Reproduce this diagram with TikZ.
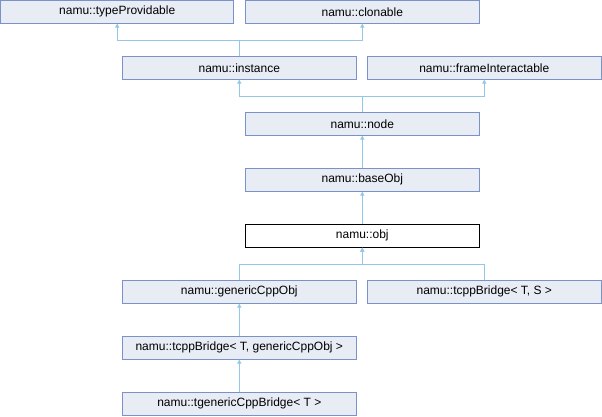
\documentclass[tikz,border=0pt]{standalone}
\usepackage{fontspec}
\setmainfont{Liberation Sans}
\usetikzlibrary{arrows.meta}
\definecolor{boxfill}{RGB}{232,236,245}
\definecolor{boxline}{RGB}{122,146,200}
\definecolor{edgecol}{RGB}{147,199,232}
\tikzset{
  cls/.style={draw=boxline, fill=boxfill, line width=1pt, minimum width=233.5pt, minimum height=22.5pt, inner sep=0pt, font=\fontsize{12}{14}\selectfont, text=black},
  mainbox/.style={cls, draw=black, fill=white},
  edge/.style={draw=edgecol, line width=1pt, -{Triangle[width=4pt,length=4pt]}}
}
\begin{document}
\begin{tikzpicture}[x=1pt,y=-1pt]
\useasboundingbox (0,0) rectangle (602,416);
\node[cls] (tp) at (117.2,11.8) {namu::typeProvidable};
\node[cls] (cl) at (362.3,11.8) {namu::clonable};
\node[cls] (in) at (239.3,67.8) {namu::instance};
\node[cls] (fi) at (484.3,67.8) {namu::frameInteractable};
\node[cls] (nd) at (362.3,123.8) {namu::node};
\node[cls] (bo) at (362.3,179.8) {namu::baseObj};
\node[mainbox] (ob) at (362.3,235.8) {namu::obj};
\node[cls] (gc) at (239.3,291.8) {namu::genericCppObj};
\node[cls] (ts) at (484.3,291.8) {namu::tcppBridge< T, S >};
\node[cls] (tg) at (239.3,347.8) {namu::tcppBridge< T, genericCppObj >};
\node[cls] (tb) at (239.3,403.8) {namu::tgenericCppBridge< T >};
\coordinate (j1) at (239.3,40.3);
\coordinate (j2) at (362.3,96.3);
\coordinate (j3) at (362.3,264);
\draw[edge] (in.north) -- (j1) -| (tp.south);
\draw[edge] (in.north) -- (j1) -| (cl.south);
\draw[edge] (nd.north) -- (j2) -| (in.south);
\draw[edge] (nd.north) -- (j2) -| (fi.south);
\draw[edge] (bo.north) -- (nd.south);
\draw[edge] (ob.north) -- (bo.south);
\draw[edge] (gc.north) |- (j3) -- (ob.south);
\draw[edge] (ts.north) |- (j3) -- (ob.south);
\draw[edge] (tg.north) -- (gc.south);
\draw[edge] (tb.north) -- (tg.south);
\end{tikzpicture}
\end{document}
